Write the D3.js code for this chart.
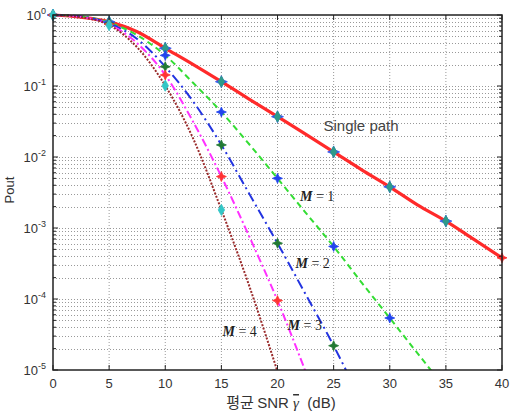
<!doctype html>
<html lang="en">
<head>
  <meta charset="utf-8">
  <title>Pout vs average SNR</title>
  <style>
body { margin: 0; background: #fff; }
.grid line {
  stroke: #999;
  stroke-width: 1;
  stroke-dasharray: 1,2;
}
.tick-label {
  font: 13px "Liberation Sans", Arial, sans-serif;
  fill: #333;
}
.mlabel {
  font: 14px "Liberation Serif", "Times New Roman", serif;
  fill: #222;
}
  </style>
</head>
<body>
  <script src="https://d3js.org/d3.v7.min.js"></script>
  <script>
// values (average SNR in dB -> outage probability)
var snrSingle = [0, 2.5, 5, 7.5, 10, 12.5, 15, 17.5, 20, 22.5, 25, 27.5, 30, 32.5, 35, 37.5, 40];
var poutSingle = [1.0, 0.93, 0.80, 0.58, 0.34, 0.20, 0.115, 0.065, 0.037, 0.021, 0.0118, 0.0066, 0.0038, 0.0021, 0.00125, 0.00069, 0.00038];

var snrM = [0, 2.5, 5, 7.5, 10, 12.5, 15, 17.5, 20, 22.5, 25, 27.5, 30, 32.5, 35];
var poutM1 = [1.0, 0.96, 0.78, 0.52, 0.27, 0.11, 0.043, 0.015, 0.0050, 0.00165, 0.00055, 0.00017, 0.000054, 0.000017, 0.0000054];
var poutM2 = [1.0, 0.95, 0.76, 0.46, 0.187, 0.06, 0.0148, 0.0030, 0.00061, 0.000117, 0.000022, 0.0000035];
var poutM3 = [1.0, 0.94, 0.74, 0.40, 0.143, 0.031, 0.0053, 0.00075, 0.000095, 0.0000095];
var poutM4 = [1.0, 0.93, 0.72, 0.35, 0.101, 0.018, 0.0018, 0.00015, 0.0000095];

var xTicks = [0, 5, 10, 15, 20, 25, 30, 35, 40];
var yDecades = [0, -1, -2, -3, -4, -5];

var margin = {top: 15, right: 9, bottom: 44, left: 53},
    width = 511 - margin.left - margin.right,
    height = 414 - margin.top - margin.bottom;

var x = d3.scaleLinear().domain([0, 40]).range([0, width]);
var y = d3.scaleLog().domain([1e-5, 1]).range([height, 0]);

var svg = d3.select("body").append("svg")
    .attr("width", width + margin.left + margin.right)
    .attr("height", height + margin.top + margin.bottom)
  .append("g")
    .attr("transform", "translate(" + margin.left + "," + margin.top + ")");

svg.append("defs").append("clipPath").attr("id", "plot")
  .append("rect")
    .attr("x", 0).attr("y", -3)
    .attr("width", width).attr("height", height + 3);

// dotted grid
var grid = svg.append("g").attr("class", "grid");
grid.selectAll(".gx")
    .data(xTicks.slice(1, -1))
  .enter().append("line")
    .attr("x1", function(d) { return x(d); })
    .attr("x2", function(d) { return x(d); })
    .attr("y1", 0).attr("y2", height);
grid.selectAll(".gy")
    .data(y.ticks().filter(function(d) { return d > 1e-5 && d < 1; }))
  .enter().append("line")
    .attr("x1", 0).attr("x2", width)
    .attr("y1", function(d) { return Math.round(y(d)) + 0.5; })
    .attr("y2", function(d) { return Math.round(y(d)) + 0.5; });

// curves
var line = d3.line()
    .x(function(d) { return x(d[0]); })
    .y(function(d) { return y(d[1]); })
    .curve(d3.curveMonotoneX);

function pairs(xs, ys) {
  return ys.map(function(v, i) { return [xs[i], v]; });
}

var series = [
  {xs: snrSingle, ys: poutSingle, color: "#ff2a2a", w: 3.2, dash: null},
  {xs: snrM, ys: poutM1, color: "#33dd33", w: 2, dash: "6,4"},
  {xs: snrM, ys: poutM2, color: "#2233e0", w: 2, dash: "10,4,2,4"},
  {xs: snrM, ys: poutM3, color: "#ff30ff", w: 2, dash: "8,3,2,3"},
  {xs: snrM, ys: poutM4, color: "#9a2a2a", w: 2, dash: "2,1.5"}
];

var curves = svg.append("g").attr("clip-path", "url(#plot)");
curves.selectAll("path")
    .data(series)
  .enter().append("path")
    .attr("fill", "none")
    .attr("stroke", function(d) { return d.color; })
    .attr("stroke-width", function(d) { return d.w; })
    .attr("stroke-dasharray", function(d) { return d.dash; })
    .attr("d", function(d) { return line(pairs(d.xs, d.ys)); });

// markers every 5 dB
function starPath(r) {
  var s = r * 0.3;
  return "M0," + (-r) + "L" + s + "," + (-s) + "L" + r + ",0L" + s + "," + s +
         "L0," + r + "L" + (-s) + "," + s + "L" + (-r) + ",0L" + (-s) + "," + (-s) + "Z";
}
var diamond = d3.symbol().type(d3.symbolDiamond).size(36)();

function markerPts(xs, ys) {
  return pairs(xs, ys).filter(function(d) { return d[0] % 5 === 0 && d[1] >= 1e-5 * 0.98; });
}

var markerSets = [
  {pts: markerPts(snrSingle, poutSingle).filter(function(d) { return d[0] < 40; }), shape: starPath(6), color: "#3355ee"},
  {pts: markerPts(snrSingle, poutSingle).filter(function(d) { return d[0] < 40; }), shape: diamond, color: "#2f9a8a"},
  {pts: markerPts(snrSingle, poutSingle).filter(function(d) { return d[0] === 40; }), shape: starPath(5), color: "#ff2a2a"},
  {pts: markerPts(snrM, poutM1), shape: starPath(5), color: "#2244ee"},
  {pts: markerPts(snrM, poutM2), shape: starPath(5), color: "#227a33"},
  {pts: markerPts(snrM, poutM3), shape: starPath(5), color: "#ff3333"},
  {pts: markerPts(snrM, poutM4), shape: diamond, color: "#33c6c6"}
];

var marks = svg.append("g");
markerSets.forEach(function(m) {
  marks.selectAll(null)
      .data(m.pts)
    .enter().append("path")
      .attr("d", m.shape)
      .attr("fill", m.color)
      .attr("stroke", m.color)
      .attr("stroke-width", 0.8)
      .attr("transform", function(d) { return "translate(" + x(d[0]) + "," + y(d[1]) + ")"; });
});

// frame and ticks
svg.append("rect")
    .attr("width", width).attr("height", height)
    .attr("fill", "none")
    .attr("stroke", "#222")
    .attr("stroke-width", 1.5);

var ticks = svg.append("g").attr("stroke", "#222").attr("stroke-width", 1);
xTicks.forEach(function(t) {
  ticks.append("line").attr("x1", x(t)).attr("x2", x(t)).attr("y1", height).attr("y2", height - 5);
  ticks.append("line").attr("x1", x(t)).attr("x2", x(t)).attr("y1", 0).attr("y2", 5);
});
y.ticks().forEach(function(t) {
  var len = Math.abs(Math.log10(t) - Math.round(Math.log10(t))) < 1e-9 ? 5 : 3;
  ticks.append("line").attr("x1", 0).attr("x2", len).attr("y1", y(t)).attr("y2", y(t));
  ticks.append("line").attr("x1", width).attr("x2", width - len).attr("y1", y(t)).attr("y2", y(t));
});

// tick labels
svg.selectAll(".xl")
    .data(xTicks)
  .enter().append("text")
    .attr("class", "tick-label")
    .attr("x", function(d) { return x(d); })
    .attr("y", height + 18)
    .attr("text-anchor", "middle")
    .text(function(d) { return d; });

var yl = svg.selectAll(".yl")
    .data(yDecades)
  .enter().append("text")
    .attr("class", "tick-label")
    .attr("x", -7)
    .attr("y", function(d) { return y(Math.pow(10, d)) + 5; })
    .attr("text-anchor", "end");
yl.append("tspan").text("10");
yl.append("tspan")
    .attr("dy", -6)
    .attr("font-size", 9)
    .text(function(d) { return d === 0 ? "0" : String(d); });

// axis titles
svg.append("text")
    .attr("class", "tick-label")
    .attr("transform", "translate(-39,175) rotate(-90)")
    .attr("text-anchor", "middle")
    .text("Pout");

var xt = svg.append("text")
    .attr("class", "tick-label")
    .attr("x", 228)
    .attr("y", height + 38)
    .attr("text-anchor", "middle")
    .style("font-size", "15px");
xt.append("tspan").attr("font-family", "Noto Sans CJK KR").text("평균\u00a0");
xt.append("tspan").text("SNR\u00a0");
xt.append("tspan").attr("font-style", "italic").attr("font-family", "Liberation Serif")
    .style("text-decoration", "overline").text("\u03B3");
xt.append("tspan").text("\u00a0\u00a0(dB)");

// annotations
svg.append("text")
    .attr("x", x(24.1)).attr("y", y(0.0233))
    .style("font", "15px 'Liberation Sans', Arial, sans-serif")
    .attr("fill", "#444")
    .text("Single path");

var labels = [
  {t: "1", sx: 22.0, py: 0.0024},
  {t: "2", sx: 21.6, py: 0.00027},
  {t: "3", sx: 20.9, py: 0.0000366},
  {t: "4", sx: 15.1, py: 0.00003}
];
labels.forEach(function(l) {
  var tx = svg.append("text").attr("class", "mlabel")
      .attr("x", x(l.sx)).attr("y", y(l.py));
  tx.append("tspan").attr("font-style", "italic").attr("font-weight", "bold").text("M");
  tx.append("tspan").text(" = " + l.t);
});
  </script>
</body>
</html>
